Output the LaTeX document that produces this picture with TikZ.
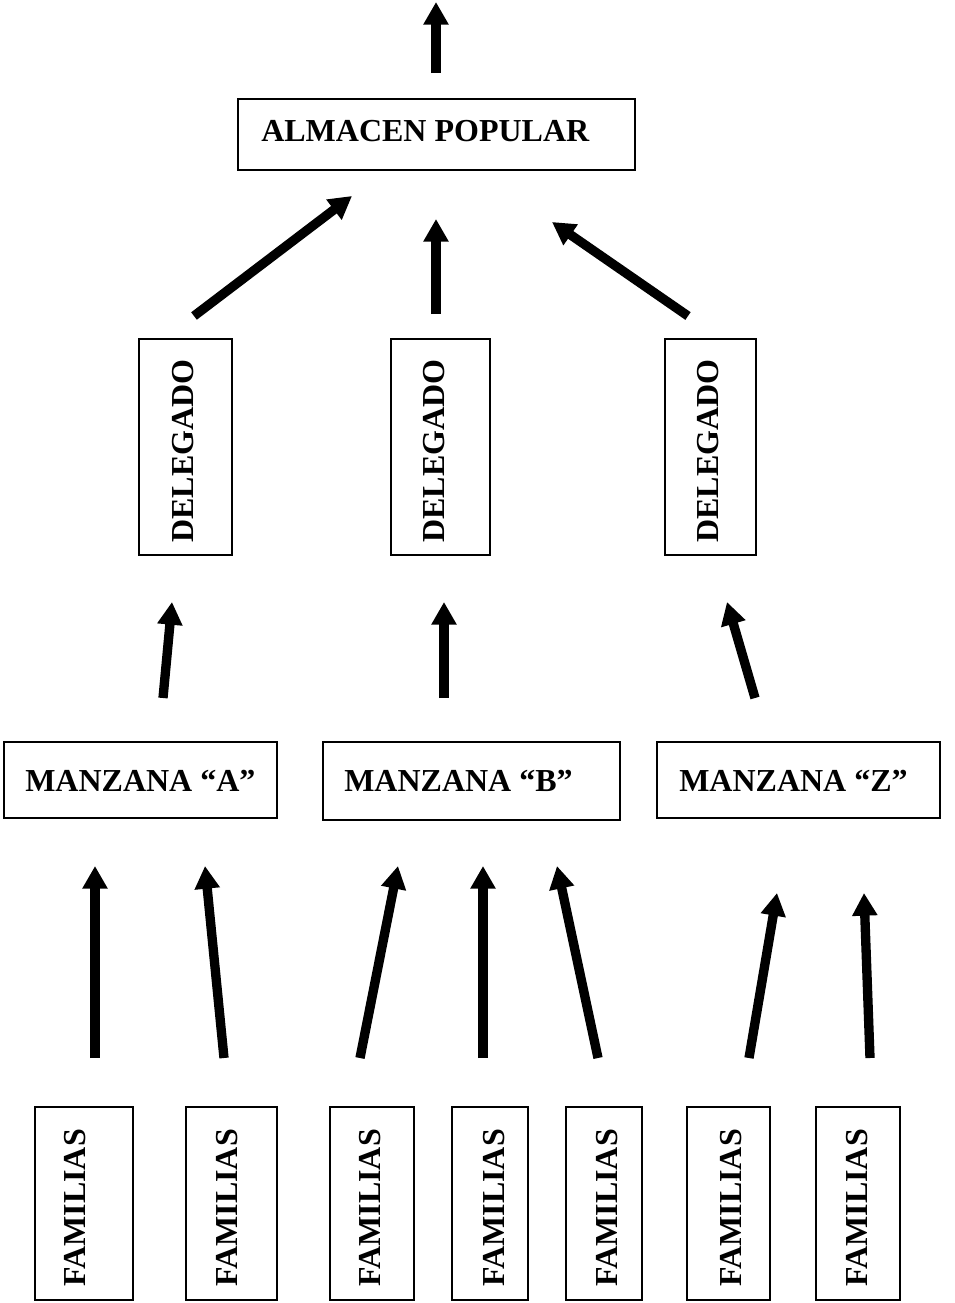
\documentclass[tikz,border=0pt]{standalone}
\usepackage{fontspec}
\setmainfont{Liberation Serif}
\usetikzlibrary{arrows.meta}
\begin{document}
\begin{tikzpicture}[x=0.75pt,y=-0.75pt,
  box/.style={draw=black,line width=1.3pt,inner sep=0pt,fill=white},
  lbl/.style={inner sep=0pt,font=\fontsize{24}{28}\selectfont\bfseries},
  vlbl/.style={lbl,rotate=90,anchor=base west},
  hlbl/.style={lbl,anchor=base west},
  arr/.style={line width=7pt,-{Triangle[width=18pt,length=17pt]}}]
\path[use as bounding box,fill=white] (0,0) rectangle (954,1303);

% top
\node[box,minimum width=297.75pt,minimum height=53.25pt] (alm) at (436.5,134.5) {};
\node[hlbl] (almt) at (261,141) {ALMACEN POPULAR};
\coordinate (t0) at (436,73); \coordinate (t1) at (436,2);
\draw[arr] (t0) -- (t1);

% delegados
\node[box,minimum width=69.75pt,minimum height=162pt] (d1) at (185.5,447) {};
\node[box,minimum width=74.25pt,minimum height=162pt] (d2) at (440.5,447) {};
\node[box,minimum width=68.25pt,minimum height=162pt] (d3) at (710.5,447) {};
\node[vlbl] (d1t) at (193,543) {DELEGADO};
\node[vlbl] (d2t) at (444,543) {DELEGADO};
\node[vlbl] (d3t) at (718,543) {DELEGADO};
\coordinate (a1) at (194,316); \coordinate (b1) at (352,196);
\coordinate (a2) at (436,314); \coordinate (b2) at (436,219);
\coordinate (a3) at (688,316); \coordinate (b3) at (552,222);
\draw[arr] (a1) -- (b1);
\draw[arr] (a2) -- (b2);
\draw[arr] (a3) -- (b3);

% manzanas
\node[box,minimum width=204.75pt,minimum height=57pt] (mA) at (140.5,780) {};
\node[box,minimum width=222.75pt,minimum height=58.5pt] (mB) at (471.5,781) {};
\node[box,minimum width=212.25pt,minimum height=57pt] (mZ) at (798.5,780) {};
\node[hlbl] (mAt) at (25,791) {MANZANA “A”};
\node[hlbl] (mBt) at (344,791) {MANZANA “B”};
\node[hlbl] (mZt) at (679,791) {MANZANA “Z”};
\coordinate (c1) at (163,698); \coordinate (e1) at (172,602);
\coordinate (c2) at (444,698); \coordinate (e2) at (444,602);
\coordinate (c3) at (755,698); \coordinate (e3) at (727,602);
\draw[arr] (c1) -- (e1);
\draw[arr] (c2) -- (e2);
\draw[arr] (c3) -- (e3);

% familias
\node[box,minimum width=73.5pt,minimum height=144.75pt] (f1) at (84,1203.5) {};
\node[box,minimum width=68.25pt,minimum height=144.75pt] (f2) at (231.5,1203.5) {};
\node[box,minimum width=63pt,minimum height=144.75pt] (f3) at (372,1203.5) {};
\node[box,minimum width=57pt,minimum height=144.75pt] (f4) at (490,1203.5) {};
\node[box,minimum width=57pt,minimum height=144.75pt] (f5) at (604,1203.5) {};
\node[box,minimum width=62.25pt,minimum height=144.75pt] (f6) at (728.5,1203.5) {};
\node[box,minimum width=63pt,minimum height=144.75pt] (f7) at (858,1203.5) {};
\node[vlbl] (f1t) at (85,1287) {FAMILIAS};
\node[vlbl] (f2t) at (237,1287) {FAMILIAS};
\node[vlbl] (f3t) at (380,1287) {FAMILIAS};
\node[vlbl] (f4t) at (504,1287) {FAMILIAS};
\node[vlbl] (f5t) at (617,1287) {FAMILIAS};
\node[vlbl] (f6t) at (741,1287) {FAMILIAS};
\node[vlbl] (f7t) at (867,1287) {FAMILIAS};
\coordinate (g1) at (95,1058);  \coordinate (h1) at (95,866);
\coordinate (g2) at (224,1058); \coordinate (h2) at (205,866);
\coordinate (g3) at (360,1058); \coordinate (h3) at (398,866);
\coordinate (g4) at (483,1058); \coordinate (h4) at (483,866);
\coordinate (g5) at (598,1058); \coordinate (h5) at (557,866);
\coordinate (g6) at (749,1058); \coordinate (h6) at (777,893);
\coordinate (g7) at (870,1058); \coordinate (h7) at (864,893);
\foreach \i in {1,...,7} {\draw[arr] (g\i) -- (h\i);}
\end{tikzpicture}
\end{document}
